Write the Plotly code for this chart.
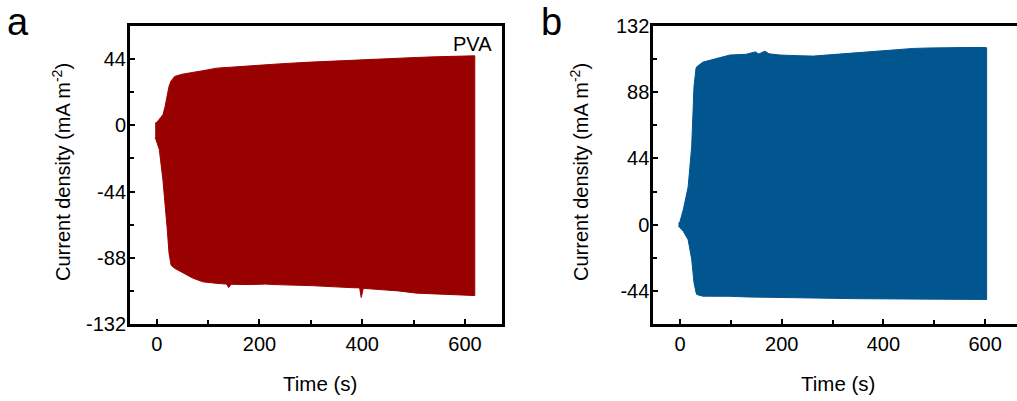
import plotly.graph_objects as go

W, H = 1017, 401

# Panel a (PVA): envelope of the oscillating current density
t_a = [-3, 0, 5, 12, 16, 20, 24, 28, 35, 50, 70, 90, 117, 136, 140, 145, 180, 210, 246, 300,
       340, 376, 395, 398, 402, 420, 441, 470, 506, 540, 570, 600, 619]
upper_a = [1.5, 2, 4, 7, 12, 20, 26, 29.5, 32.5, 34, 35, 36.3, 38, 38.5, 38.6, 38.7, 39.6, 40.3, 41,
           42, 42.7, 43.3, 43.6, 43.6, 43.7, 44, 44.3, 44.7, 45.1, 45.5, 45.8, 46.1, 46.2]
lower_a = [-8, -10, -16, -36, -52, -67, -85, -93, -95, -98, -101.5, -104, -105, -105.5, -107.8, -105.6,
           -105.8, -105.5, -106, -106.5, -107, -107.8, -108, -114.4, -108.3, -108.8, -109.3, -110,
           -111.5, -112, -112.3, -112.8, -113.1]

# Panel b: envelope of the oscillating current density
t_b = [-3, 0, 6.5, 16, 23, 27.5, 31.5, 33, 45, 65, 98, 130, 148, 155, 167, 175, 197, 230, 262,
       300, 328, 360, 393, 430, 459, 490, 524, 560, 600, 603]
upper_b = [1, 2, 10, 25, 52, 91.7, 104, 104.9, 108, 109.8, 112.7, 113.2, 114.8, 113.4, 115.3, 113.5,
           112.7, 112.3, 112, 113, 113.8, 114.6, 115.5, 116.5, 117.1, 117.4, 117.7, 117.7, 117.7, 117.5]
lower_b = [-1, -2, -4.4, -10, -23, -38.5, -45, -46.4, -47.5, -47.4, -47.6, -48, -48.2, -48.2, -48.2,
           -48.3, -48.5, -48.7, -48.9, -49, -49.1, -49.2, -49.3, -49.4, -49.5, -49.6, -49.7, -49.7,
           -49.7, -49.7]

x_ticks = [0, 200, 400, 600]
y_ticks_a = [-132, -88, -44, 0, 44]
y_ticks_b = [-44, 0, 44, 88, 132]

red = "#990000"
blue = "#02568F"
font = "Liberation Sans, Arial, sans-serif"

fig = go.Figure()
fig.add_trace(go.Scatter(x=t_a + t_a[::-1], y=upper_a + lower_a[::-1], fill="toself",
                         fillcolor=red, line=dict(color=red, width=1), mode="lines",
                         xaxis="x", yaxis="y", showlegend=False, hoverinfo="skip"))
fig.add_trace(go.Scatter(x=t_b + t_b[::-1], y=upper_b + lower_b[::-1], fill="toself",
                         fillcolor=blue, line=dict(color=blue, width=1), mode="lines",
                         xaxis="x2", yaxis="y2", showlegend=False, hoverinfo="skip"))

yd = [(H - 324) / H, (H - 26) / H]
common_ax = dict(showline=True, linecolor="black", linewidth=3, ticks="inside", ticklen=5,
                 tickwidth=2, tickcolor="black", showgrid=False, zeroline=False,
                 automargin=False,
                 tickfont=dict(family=font, size=20, color="black"))
minor_ax = dict(ticks="inside", ticklen=4, tickwidth=2, tickcolor="black")

def labels(vals):
    return [str(v) for v in vals]

fig.update_layout(
    width=W, height=H, margin=dict(l=0, r=0, t=0, b=0, pad=0, autoexpand=False),
    paper_bgcolor="white", plot_bgcolor="white",
    xaxis=dict(domain=[130 / W, 502 / W], range=[-52, 672], tickvals=x_ticks,
               ticktext=labels(x_ticks),
               minor=dict(tickvals=[100, 300, 500], **minor_ax),
               mirror=True, anchor="y", **common_ax),
    yaxis=dict(domain=yd, range=[-132, 66], tickvals=y_ticks_a, ticktext=labels(y_ticks_a),
               minor=dict(tickvals=[-110, -66, -22, 22], **minor_ax),
               mirror=True, anchor="x", ticklabelstandoff=-3, **common_ax),
    xaxis2=dict(domain=[653.3 / W, 1.0], range=[-52.5, 662.7], tickvals=x_ticks,
                ticktext=labels(x_ticks),
                minor=dict(tickvals=[100, 300, 500], **minor_ax),
                mirror=True, anchor="y2", **common_ax),
    yaxis2=dict(domain=yd, range=[-66, 132], tickvals=y_ticks_b, ticktext=labels(y_ticks_b),
                minor=dict(tickvals=[-22, 22, 66, 110], **minor_ax),
                mirror=False, anchor="x2", ticklabelstandoff=-3, **common_ax),
)

def ann(text, x, y, size, angle=0, xanchor="center"):
    fig.add_annotation(text=text, x=x / W, y=1 - y / H, xref="paper", yref="paper",
                       showarrow=False, textangle=angle, xanchor=xanchor, yanchor="middle",
                       font=dict(family=font, size=size, color="black"))

ytitle = "Current density (mA m<sup>-2</sup>)"
ann(ytitle, 62, 172, 20, angle=-90)
ann(ytitle, 580, 172, 20, angle=-90)
ann("Time (s)", 320, 383, 20.5)
ann("Time (s)", 838, 383, 20.5)
ann("a", 18, 22, 38)
ann("b", 551, 22, 38)
ann("PVA", 494, 44, 20, xanchor="right")

fig.write_html("out.html")
